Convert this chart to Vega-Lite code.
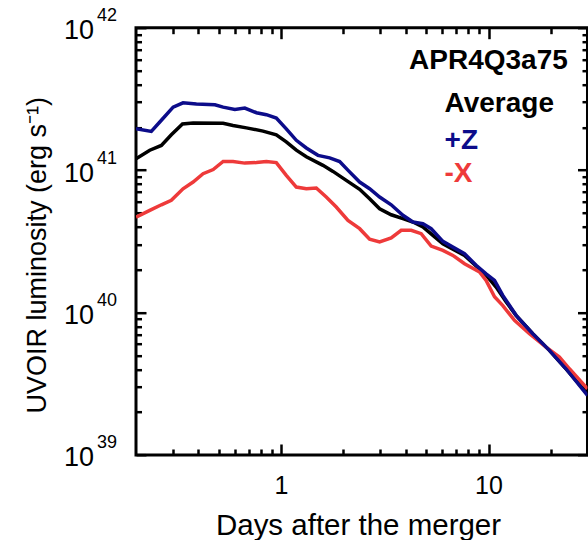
{
  "$schema": "https://vega.github.io/schema/vega-lite/v6.json",
  "padding": {"left": 21, "top": 4.7, "right": 3, "bottom": 1},
  "bounds": "flush",
  "config": {
    "font": "Liberation Sans",
    "view": {"stroke": "#000000", "strokeWidth": 3},
    "axis": {"domain": false, "grid": false, "ticks": true, "tickColor": "#000000", "tickWidth": 2.5, "labelColor": "#000000", "titleColor": "#000000", "labelFlush": false, "labelOverlap": false, "labelBound": false, "labelFont": "Liberation Sans", "titleFont": "Liberation Sans", "titleFontWeight": "normal"}
  },
  "datasets": {
    "curves": [
      {"series": "Average", "day": 0.2, "lum": 1.20e41},
      {"series": "Average", "day": 0.233, "lum": 1.38e41},
      {"series": "Average", "day": 0.265, "lum": 1.49e41},
      {"series": "Average", "day": 0.296, "lum": 1.77e41},
      {"series": "Average", "day": 0.335, "lum": 2.11e41},
      {"series": "Average", "day": 0.377, "lum": 2.14e41},
      {"series": "Average", "day": 0.526, "lum": 2.13e41},
      {"series": "Average", "day": 0.587, "lum": 2.06e41},
      {"series": "Average", "day": 0.681, "lum": 1.98e41},
      {"series": "Average", "day": 0.819, "lum": 1.88e41},
      {"series": "Average", "day": 0.949, "lum": 1.77e41},
      {"series": "Average", "day": 1.06, "lum": 1.58e41},
      {"series": "Average", "day": 1.185, "lum": 1.38e41},
      {"series": "Average", "day": 1.324, "lum": 1.24e41},
      {"series": "Average", "day": 1.593, "lum": 1.08e41},
      {"series": "Average", "day": 1.78, "lum": 9.8e40},
      {"series": "Average", "day": 2.063, "lum": 8.48e40},
      {"series": "Average", "day": 2.393, "lum": 7.33e40},
      {"series": "Average", "day": 2.673, "lum": 6.30e40},
      {"series": "Average", "day": 2.987, "lum": 5.36e40},
      {"series": "Average", "day": 3.397, "lum": 4.86e40},
      {"series": "Average", "day": 3.868, "lum": 4.56e40},
      {"series": "Average", "day": 4.322, "lum": 4.32e40},
      {"series": "Average", "day": 4.828, "lum": 3.99e40},
      {"series": "Average", "day": 5.393, "lum": 3.48e40},
      {"series": "Average", "day": 6.026, "lum": 3.04e40},
      {"series": "Average", "day": 6.733, "lum": 2.78e40},
      {"series": "Average", "day": 7.664, "lum": 2.52e40},
      {"series": "Average", "day": 8.716, "lum": 2.12e40},
      {"series": "Average", "day": 9.737, "lum": 1.83e40},
      {"series": "Average", "day": 10.88, "lum": 1.51e40},
      {"series": "Average", "day": 12.15, "lum": 1.19e40},
      {"series": "Average", "day": 13.58, "lum": 9.56e39},
      {"series": "Average", "day": 16.34, "lum": 7.1e39},
      {"series": "Average", "day": 19.66, "lum": 5.43e39},
      {"series": "Average", "day": 23.63, "lum": 4.03e39},
      {"series": "Average", "day": 30, "lum": 2.69e39},
      {"series": "-X", "day": 0.2, "lum": 4.68e40},
      {"series": "-X", "day": 0.233, "lum": 5.22e40},
      {"series": "-X", "day": 0.265, "lum": 5.71e40},
      {"series": "-X", "day": 0.296, "lum": 6.14e40},
      {"series": "-X", "day": 0.337, "lum": 7.40e40},
      {"series": "-X", "day": 0.377, "lum": 8.25e40},
      {"series": "-X", "day": 0.421, "lum": 9.43e40},
      {"series": "-X", "day": 0.471, "lum": 1.01e41},
      {"series": "-X", "day": 0.526, "lum": 1.15e41},
      {"series": "-X", "day": 0.587, "lum": 1.15e41},
      {"series": "-X", "day": 0.669, "lum": 1.12e41},
      {"series": "-X", "day": 0.761, "lum": 1.13e41},
      {"series": "-X", "day": 0.85, "lum": 1.15e41},
      {"series": "-X", "day": 0.949, "lum": 1.13e41},
      {"series": "-X", "day": 1.06, "lum": 9.19e40},
      {"series": "-X", "day": 1.185, "lum": 7.61e40},
      {"series": "-X", "day": 1.324, "lum": 7.40e40},
      {"series": "-X", "day": 1.479, "lum": 7.49e40},
      {"series": "-X", "day": 1.652, "lum": 6.47e40},
      {"series": "-X", "day": 1.846, "lum": 5.51e40},
      {"series": "-X", "day": 2.102, "lum": 4.44e40},
      {"series": "-X", "day": 2.393, "lum": 3.88e40},
      {"series": "-X", "day": 2.673, "lum": 3.27e40},
      {"series": "-X", "day": 2.987, "lum": 3.13e40},
      {"series": "-X", "day": 3.397, "lum": 3.34e40},
      {"series": "-X", "day": 3.796, "lum": 3.78e40},
      {"series": "-X", "day": 4.241, "lum": 3.78e40},
      {"series": "-X", "day": 4.737, "lum": 3.58e40},
      {"series": "-X", "day": 5.292, "lum": 2.93e40},
      {"series": "-X", "day": 6.026, "lum": 2.73e40},
      {"series": "-X", "day": 6.733, "lum": 2.52e40},
      {"series": "-X", "day": 7.664, "lum": 2.20e40},
      {"series": "-X", "day": 9.05, "lum": 1.93e40},
      {"series": "-X", "day": 9.737, "lum": 1.68e40},
      {"series": "-X", "day": 10.69, "lum": 1.29e40},
      {"series": "-X", "day": 11.72, "lum": 1.12e40},
      {"series": "-X", "day": 13.34, "lum": 8.81e39},
      {"series": "-X", "day": 15.75, "lum": 7.10e39},
      {"series": "-X", "day": 18.94, "lum": 5.72e39},
      {"series": "-X", "day": 21.97, "lum": 4.87e39},
      {"series": "-X", "day": 24.55, "lum": 4.03e39},
      {"series": "-X", "day": 30, "lum": 2.92e39},
      {"series": "+Z", "day": 0.2, "lum": 1.95e41},
      {"series": "+Z", "day": 0.237, "lum": 1.87e41},
      {"series": "+Z", "day": 0.265, "lum": 2.24e41},
      {"series": "+Z", "day": 0.302, "lum": 2.77e41},
      {"series": "+Z", "day": 0.337, "lum": 2.97e41},
      {"series": "+Z", "day": 0.391, "lum": 2.91e41},
      {"series": "+Z", "day": 0.48, "lum": 2.88e41},
      {"series": "+Z", "day": 0.526, "lum": 2.77e41},
      {"series": "+Z", "day": 0.599, "lum": 2.67e41},
      {"series": "+Z", "day": 0.669, "lum": 2.73e41},
      {"series": "+Z", "day": 0.761, "lum": 2.53e41},
      {"series": "+Z", "day": 0.85, "lum": 2.45e41},
      {"series": "+Z", "day": 0.949, "lum": 2.32e41},
      {"series": "+Z", "day": 1.06, "lum": 1.95e41},
      {"series": "+Z", "day": 1.185, "lum": 1.62e41},
      {"series": "+Z", "day": 1.324, "lum": 1.43e41},
      {"series": "+Z", "day": 1.507, "lum": 1.27e41},
      {"series": "+Z", "day": 1.716, "lum": 1.22e41},
      {"series": "+Z", "day": 1.917, "lum": 1.15e41},
      {"series": "+Z", "day": 2.1, "lum": 1.0e41},
      {"series": "+Z", "day": 2.393, "lum": 8.25e40},
      {"series": "+Z", "day": 2.673, "lum": 7.40e40},
      {"series": "+Z", "day": 2.987, "lum": 6.47e40},
      {"series": "+Z", "day": 3.397, "lum": 5.71e40},
      {"series": "+Z", "day": 3.868, "lum": 4.82e40},
      {"series": "+Z", "day": 4.322, "lum": 4.32e40},
      {"series": "+Z", "day": 4.828, "lum": 4.20e40},
      {"series": "+Z", "day": 5.292, "lum": 3.88e40},
      {"series": "+Z", "day": 6.026, "lum": 3.16e40},
      {"series": "+Z", "day": 6.733, "lum": 2.88e40},
      {"series": "+Z", "day": 7.664, "lum": 2.59e40},
      {"series": "+Z", "day": 8.716, "lum": 2.15e40},
      {"series": "+Z", "day": 9.737, "lum": 1.87e40},
      {"series": "+Z", "day": 10.69, "lum": 1.68e40},
      {"series": "+Z", "day": 11.72, "lum": 1.32e40},
      {"series": "+Z", "day": 13.58, "lum": 9.56e39},
      {"series": "+Z", "day": 16.34, "lum": 7.1e39},
      {"series": "+Z", "day": 19.66, "lum": 5.43e39},
      {"series": "+Z", "day": 23.63, "lum": 4.03e39},
      {"series": "+Z", "day": 30, "lum": 2.62e39}
    ]
  },
  "vconcat": [
    {
      "width": 451.5,
      "height": 427.3,
      "layer": [
        {
          "data": {"name": "curves"},
          "mark": {"type": "line", "strokeWidth": 3.5, "clip": true},
          "encoding": {
            "x": {"field": "day", "type": "quantitative", "scale": {"type": "log", "domain": [0.2, 30], "nice": false}, "title": "Days after the merger",
              "axis": {"orient": "bottom", "offset": -11, "values": [1, 10], "format": "d", "tickSize": 11, "labelFontSize": 25, "labelPadding": 39, "labelBaseline": "alphabetic", "titleFontSize": 29.5, "titleX": 222, "titleY": 91, "titleBaseline": "alphabetic", "titleAlign": "center"}},
            "y": {"field": "lum", "type": "quantitative", "scale": {"type": "log", "domain": [1e39, 1e42], "nice": false}, "title": "UVOIR luminosity (erg s⁻¹)",
              "axis": {"orient": "left", "offset": -10, "values": [1e39, 1e40, 1e41, 1e42], "tickSize": 10, "labelExpr": "'10'", "labelFontSize": 27, "labelPadding": 42.5, "labelOffset": 3, "titleFontSize": 27, "titleX": -101, "titleY": 227, "titleAngle": -90, "titleAlign": "center", "titleBaseline": "alphabetic"}},
            "color": {"field": "series", "type": "nominal", "scale": {"domain": ["Average", "-X", "+Z"], "range": ["#000000", "#ee3a3a", "#0c0c8a"]}, "legend": null}
          }
        },
        {
          "data": {"values": [{"label": "APR4Q3a75"}]},
          "mark": {"type": "text", "fontSize": 28, "fontWeight": "bold", "align": "right", "baseline": "alphabetic", "color": "#000000"},
          "encoding": {
            "text": {"field": "label"},
            "x": {"datum": 24.1, "type": "quantitative", "scale": {"type": "log", "domain": [0.2, 30], "nice": false}, "axis": {"orient": "bottom", "offset": -6, "values": [0.3, 0.4, 0.5, 0.6, 0.7, 0.8, 0.9, 2, 3, 4, 5, 6, 7, 8, 9, 20], "tickSize": 6, "labels": false, "title": null}},
            "y": {"datum": 5.15e41, "type": "quantitative", "scale": {"type": "log", "domain": [1e39, 1e42], "nice": false}, "axis": {"orient": "left", "offset": -5.5, "values": [2e39, 3e39, 4e39, 5e39, 6e39, 7e39, 8e39, 9e39, 2e40, 3e40, 4e40, 5e40, 6e40, 7e40, 8e40, 9e40, 2e41, 3e41, 4e41, 5e41, 6e41, 7e41, 8e41, 9e41], "tickSize": 5.5, "labels": false, "title": null}}
          }
        },
        {
          "data": {"values": [{"label": "Average"}]},
          "mark": {"type": "text", "fontSize": 28, "fontWeight": "bold", "align": "left", "baseline": "alphabetic", "color": "#000000"},
          "encoding": {
            "text": {"field": "label"},
            "x": {"datum": 6.14, "type": "quantitative", "scale": {"type": "log", "domain": [0.2, 30], "nice": false}, "axis": {"orient": "top", "offset": -11, "values": [1, 10], "tickSize": 11, "labels": false, "title": null}},
            "y": {"datum": 2.56e41, "type": "quantitative", "scale": {"type": "log", "domain": [1e39, 1e42], "nice": false}, "axis": {"orient": "right", "offset": -10, "values": [1e39, 1e40, 1e41, 1e42], "tickSize": 10, "labels": false, "title": null}}
          }
        },
        {
          "data": {"values": [{"label": "+Z"}]},
          "mark": {"type": "text", "fontSize": 28, "fontWeight": "bold", "align": "left", "baseline": "alphabetic", "color": "#0c0c8a"},
          "encoding": {
            "text": {"field": "label"},
            "x": {"datum": 6.14, "type": "quantitative", "scale": {"type": "log", "domain": [0.2, 30], "nice": false}, "axis": {"orient": "top", "offset": -6, "values": [0.3, 0.4, 0.5, 0.6, 0.7, 0.8, 0.9, 2, 3, 4, 5, 6, 7, 8, 9, 20], "tickSize": 6, "labels": false, "title": null}},
            "y": {"datum": 1.41e41, "type": "quantitative", "scale": {"type": "log", "domain": [1e39, 1e42], "nice": false}, "axis": {"orient": "right", "offset": -5.5, "values": [2e39, 3e39, 4e39, 5e39, 6e39, 7e39, 8e39, 9e39, 2e40, 3e40, 4e40, 5e40, 6e40, 7e40, 8e40, 9e40, 2e41, 3e41, 4e41, 5e41, 6e41, 7e41, 8e41, 9e41], "tickSize": 5.5, "labels": false, "title": null}}
          }
        },
        {
          "data": {"values": [{"label": "-X"}]},
          "mark": {"type": "text", "fontSize": 28, "fontWeight": "bold", "align": "left", "baseline": "alphabetic", "color": "#ee3a3a"},
          "encoding": {
            "text": {"field": "label"},
            "x": {"datum": 6.14, "type": "quantitative", "scale": {"type": "log", "domain": [0.2, 30], "nice": false}, "axis": null},
            "y": {"datum": 8.25e40, "type": "quantitative", "scale": {"type": "log", "domain": [1e39, 1e42], "nice": false}, "axis": {"orient": "left", "ticks": false, "values": [1e39, 1e40, 1e41, 1e42], "labelExpr": "format(round(log(datum.value)/LN10), 'd')", "labelFontSize": 18, "labelPadding": 19.5, "labelOffset": -12, "title": null}}
          }
        }
      ],
      "resolve": {"axis": {"x": "independent", "y": "independent"}}
    }
  ]
}
